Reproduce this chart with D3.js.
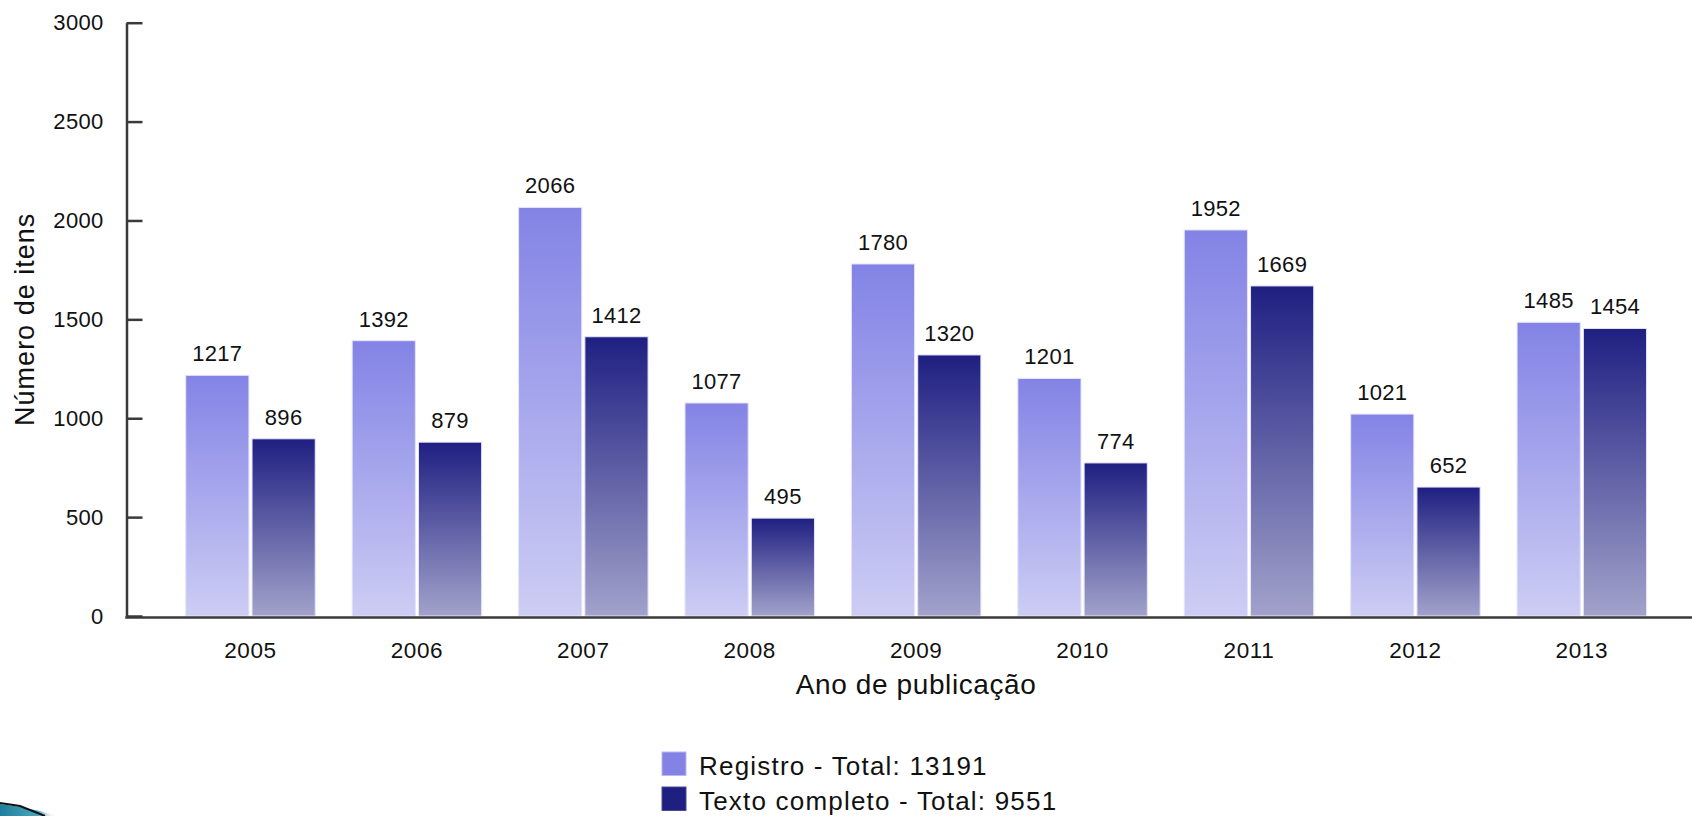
<!DOCTYPE html>
<html>
<head>
<meta charset="utf-8">
<script src="https://cdn.jsdelivr.net/npm/d3@7"></script>
<style>
  body { margin: 0; background: #fff; }
  text { font-family: "Liberation Sans", Arial, sans-serif; fill: #111; }
</style>
</head>
<body>
<div id="chart"></div>
<script>
var years    = ["2005", "2006", "2007", "2008", "2009", "2010", "2011", "2012", "2013"];
var registro = [1217, 1392, 2066, 1077, 1780, 1201, 1952, 1021, 1485];
var texto    = [896, 879, 1412, 495, 1320, 774, 1669, 652, 1454];
var series   = ["Registro", "Texto completo"];
var y_ticks  = [0, 500, 1000, 1500, 2000, 2500, 3000];

function add_svg(wrapper)
{
  var svg = d3.select(wrapper).select("svg");

  if (svg.empty())
    svg = d3.select(wrapper).append("svg");
  else
    svg.selectAll("*").remove();

  return svg.attr("width", 1692).attr("height", 816);
}

function draw_chart(wrapper)
{
  var svg = add_svg(wrapper);

  var axis_x  = 126.5;
  var base_y  = 616;
  var top_y   = 22.7;
  var colors  = { "Registro": ["#8383e6", "#cdcdf4"], "Texto completo": ["#1f1f82", "#a2a2cb"] };

  // gradients, one per series, per-bar bounding box
  var defs = svg.append("defs");
  series.forEach(function (s, i) {
    var g = defs.append("linearGradient")
      .attr("id", "grad" + i)
      .attr("x1", 0).attr("y1", 0).attr("x2", 0).attr("y2", 1);
    g.append("stop").attr("offset", "0%").attr("stop-color", colors[s][0]);
    g.append("stop").attr("offset", "100%").attr("stop-color", colors[s][1]);
  });

  var scalex = d3.scaleBand()
    .domain(years)
    .range([axis_x, 1705.8])
    .paddingInner(0.222)
    .paddingOuter(0.356);

  var scalex1 = d3.scaleBand()
    .domain(series)
    .range([0, scalex.bandwidth()])
    .paddingInner(0.047);

  var scaley = d3.scaleLinear().domain([0, 3000]).range([base_y, top_y]);

  var rows = years.map(function (year, i) {
    return { year: year, values: [
      { key: "Registro", value: registro[i], idx: 0 },
      { key: "Texto completo", value: texto[i], idx: 1 }
    ] };
  });

  var groups = svg.selectAll("g.year")
    .data(rows)
    .enter()
    .append("g")
    .attr("class", "year")
    .attr("transform", function (d) { return "translate(" + scalex(d.year) + ",0)"; });

  groups.selectAll("rect")
    .data(function (d) { return d.values; })
    .enter()
    .append("rect")
    .attr("x", function (d) { return scalex1(d.key); })
    .attr("y", function (d) { return scaley(d.value); })
    .attr("width", scalex1.bandwidth())
    .attr("height", function (d) { return base_y - scaley(d.value); })
    .attr("fill", function (d) { return "url(#grad" + d.idx + ")"; })
    .attr("stroke", "#e4e4fa")
    .attr("stroke-width", 1);

  groups.selectAll("text.value")
    .data(function (d) { return d.values; })
    .enter()
    .append("text")
    .attr("class", "value")
    .attr("x", function (d) { return scalex1(d.key) + scalex1.bandwidth() / 2; })
    .attr("y", function (d) { return scaley(d.value) - 14; })
    .attr("text-anchor", "middle")
    .style("font-size", "22px")
    .style("letter-spacing", "0.3px")
    .text(function (d) { return d.value; });

  // y axis
  var y_axis = d3.axisLeft(scaley)
    .tickValues(y_ticks)
    .tickFormat(d3.format("d"))
    .tickSizeInner(-16)
    .tickSizeOuter(0)
    .tickPadding(23);

  var gy = svg.append("g")
    .attr("class", "y_axis")
    .attr("transform", "translate(" + axis_x + ",0)")
    .call(y_axis);
  gy.selectAll("path, line").attr("stroke", "#3a3a3a").attr("stroke-width", 2.5);
  gy.selectAll("text").style("font-size", "22px").style("letter-spacing", "0.3px").attr("fill", "#111");

  // x axis
  var x_axis = d3.axisBottom(scalex).tickSize(0).tickPadding(25);
  var gx = svg.append("g")
    .attr("class", "x_axis")
    .attr("transform", "translate(0," + (base_y + 1.5) + ")")
    .call(x_axis);
  gx.select("path.domain").remove();
  gx.append("line")
    .attr("x1", axis_x - 1.25).attr("x2", 1692)
    .attr("stroke", "#3a3a3a").attr("stroke-width", 2.5);
  gx.selectAll("text").style("font-size", "22.5px").style("letter-spacing", "0.6px").attr("fill", "#111");

  // axis titles
  var plot_mid = d3.mean(years, function (y) { return scalex(y) + scalex.bandwidth() / 2; });
  svg.append("text")
    .attr("x", plot_mid)
    .attr("y", 694)
    .attr("text-anchor", "middle")
    .style("font-size", "28px")
    .style("letter-spacing", "0.6px")
    .text("Ano de publicação");

  svg.append("text")
    .attr("transform", "translate(34," + ((base_y + top_y) / 2) + ") rotate(-90)")
    .attr("text-anchor", "middle")
    .style("font-size", "27px")
    .style("letter-spacing", "1px")
    .text("Número de itens");

  // legend
  var totals = [d3.sum(registro), d3.sum(texto)];
  var legend = svg.selectAll("g.legend")
    .data(series)
    .enter()
    .append("g")
    .attr("class", "legend")
    .attr("transform", function (d, i) { return "translate(662," + (752 + i * 35) + ")"; });

  legend.append("rect")
    .attr("width", 24)
    .attr("height", 23.5)
    .attr("fill", function (d) { return colors[d][0]; })
    .attr("stroke", function (d, i) { return i == 0 ? "#b8b8f0" : "#4a4a9a"; })
    .attr("stroke-width", 1);

  legend.append("text")
    .attr("x", 37)
    .attr("y", 23)
    .style("font-size", "26px")
    .style("letter-spacing", "1.2px")
    .text(function (d, i) { return d + " - Total: " + totals[i]; });

  // slide decoration, bottom-left corner
  var deco = defs.append("linearGradient").attr("id", "deco")
    .attr("x1", 0).attr("y1", 0).attr("x2", 1).attr("y2", 0);
  deco.append("stop").attr("offset", "0%").attr("stop-color", "#1d7f9c");
  deco.append("stop").attr("offset", "65%").attr("stop-color", "#4aa5bf");
  deco.append("stop").attr("offset", "100%").attr("stop-color", "#ffffff").attr("stop-opacity", 0);
  svg.append("path")
    .attr("d", "M0,804 L20,807 L40,811 L58,816 L0,816 Z")
    .attr("fill", "url(#deco)");
  svg.append("path")
    .attr("d", "M0,803 L20,806 L45,816")
    .attr("fill", "none")
    .attr("stroke", "#111")
    .attr("stroke-width", 2);
}

draw_chart("#chart");
</script>
</body>
</html>
